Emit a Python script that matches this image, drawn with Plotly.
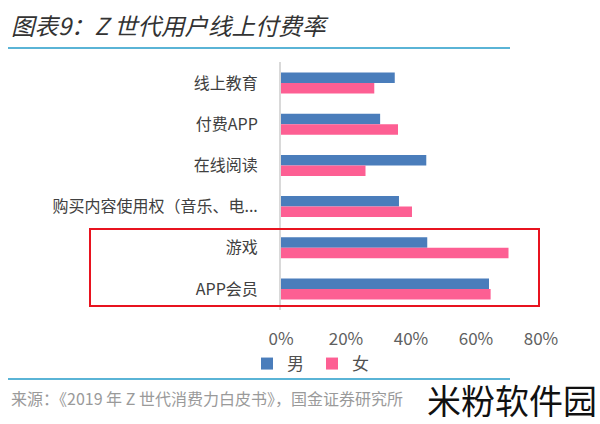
import plotly.graph_objects as go

categories = ["线上教育", "付费APP", "在线阅读", "购买内容使用权（音乐、电...", "游戏", "APP会员"]
male = [35, 30.5, 44.7, 36.3, 45, 64]
female = [28.7, 36, 26, 40.3, 70, 64.5]
x_ticks = [0, 20, 40, 60, 80]
x_tick_labels = ["0%", "20%", "40%", "60%", "80%"]

W, H = 600, 424
FONT = "Noto Sans CJK SC"

def px(x):
    return x / W

def py(y):
    return 1 - y / H

fig = go.Figure()
fig.add_trace(go.Bar(y=categories, x=male, orientation="h", name="男",
                     marker=dict(color="#4a7dbb", line=dict(width=0))))
fig.add_trace(go.Bar(y=categories, x=female, orientation="h", name="女",
                     marker=dict(color="#fd5f93", line=dict(width=0))))

fig.update_layout(
    width=W, height=H, autosize=False,
    margin=dict(l=0, r=0, t=0, b=0, pad=0, autoexpand=False),
    paper_bgcolor="white", plot_bgcolor="white",
    barmode="group", bargap=0.49, bargroupgap=0,
    font=dict(family=FONT),
    xaxis=dict(domain=[px(281), px(541)], range=[0, 80], tickvals=x_ticks,
               ticktext=x_tick_labels, showgrid=False, zeroline=False,
               showline=False, ticks="", ticklabelstandoff=17, automargin=False,
               tickfont=dict(size=17, color="#606060", family=FONT)),
    yaxis=dict(domain=[py(309.6), py(62.4)], autorange="reversed",
               showgrid=False, zeroline=False, showline=True,
               linecolor="#d9d9d9", linewidth=2, ticks="",
               ticklabelstandoff=18, automargin=False,
               tickfont=dict(size=16, color="#404040", family=FONT)),
    legend=dict(orientation="h", x=px(247), y=py(346), xanchor="left",
                yanchor="top", font=dict(size=17, color="#505050", family=FONT),
                entrywidth=20, entrywidthmode="pixels",
                itemwidth=30, tracegroupgap=0, bgcolor="rgba(0,0,0,0)"),
    showlegend=True,
)

shapes = [
    dict(type="line", xref="paper", yref="paper", x0=px(8), x1=px(510),
         y0=py(48), y1=py(48), line=dict(color="#5ab4d6", width=2)),
    dict(type="line", xref="paper", yref="paper", x0=px(8), x1=px(510),
         y0=py(379), y1=py(379), line=dict(color="#5ab4d6", width=2)),
    dict(type="rect", xref="paper", yref="paper", x0=px(90), x1=px(539),
         y0=py(306), y1=py(229), line=dict(color="#e8131f", width=2)),
]
fig.update_layout(shapes=shapes)

fig.add_annotation(text="<i>图表9：Z 世代用户线上付费率</i>", xref="paper", yref="paper",
                   x=px(9), y=py(25), xanchor="left", yanchor="middle", showarrow=False,
                   font=dict(size=23.5, color="#333333", family=FONT))
fig.add_annotation(text="来源：《2019 年 Z 世代消费力白皮书》，国金证券研究所", xref="paper", yref="paper",
                   x=px(9), y=py(398), xanchor="left", yanchor="middle", showarrow=False,
                   font=dict(size=16, color="#9a9a9a", family=FONT))
fig.add_annotation(text="米粉软件园", xref="paper", yref="paper",
                   x=px(597), y=0, xanchor="right", yanchor="bottom", showarrow=False,
                   borderpad=0, borderwidth=0,
                   font=dict(size=34, color="#111111", family=FONT))

fig.write_html("out.html")
